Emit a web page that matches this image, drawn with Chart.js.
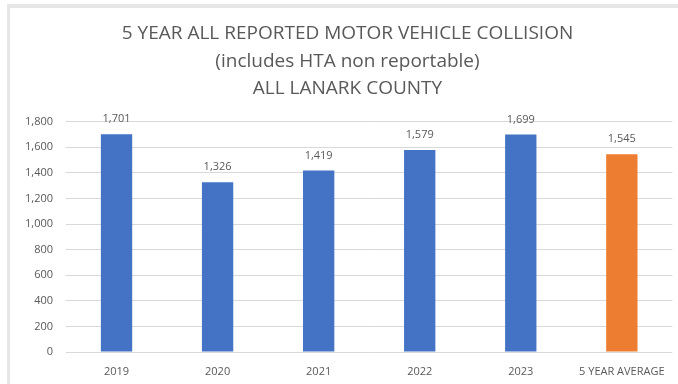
<!DOCTYPE html>
<html>
<head>
<meta charset="utf-8">
<script src="https://cdn.jsdelivr.net/npm/chart.js@4/dist/chart.umd.min.js"></script>
<style>
  html, body { margin: 0; padding: 0; background: #ffffff; }
  #wrap { position: relative; width: 678px; height: 384px; overflow: hidden; }
  #frame {
    position: absolute; left: 7px; top: 4px; right: -10px; bottom: -10px;
    border-top: 4px solid #e6e6e6; border-left: 3px solid #e6e6e6; background: #ffffff;
  }
  #chart { position: absolute; left: 0; top: 0; }
</style>
</head>
<body>
<div id="wrap">
  <div id="frame"></div>
  <canvas id="chart" width="678" height="384"></canvas>
</div>
<script>
// Collision counts per year plus the five-year average
const categories = ['2019', '2020', '2021', '2022', '2023', '5 YEAR AVERAGE'];
const collisions = [1701, 1326, 1419, 1579, 1699, 1545];
const barColors = ['#4472C4', '#4472C4', '#4472C4', '#4472C4', '#4472C4', '#ED7D31'];
const titleLines = [
  '5 YEAR ALL REPORTED MOTOR VEHICLE COLLISION',
  '(includes HTA non reportable)',
  'ALL LANARK COUNTY'
];
const yTicks = [0, 200, 400, 600, 800, 1000, 1200, 1400, 1600, 1800];

const TEXT = '#595959';
const FONT = "'Open Sans', 'Noto Sans', sans-serif";

// Writes each bar's value just above it
const valueLabels = {
  id: 'valueLabels',
  afterDatasetsDraw(chart) {
    const ctx = chart.ctx;
    const meta = chart.getDatasetMeta(0);
    ctx.save();
    ctx.font = '11px ' + FONT;
    ctx.fillStyle = TEXT;
    ctx.textAlign = 'center';
    ctx.textBaseline = 'middle';
    meta.data.forEach((bar, i) => {
      ctx.fillText(collisions[i].toLocaleString('en-US'), bar.x, bar.y - 15);
    });
    ctx.restore();
  }
};

new Chart(document.getElementById('chart'), {
  type: 'bar',
  data: {
    labels: categories,
    datasets: [{
      data: collisions,
      backgroundColor: barColors,
      borderWidth: 0,
      categoryPercentage: 1,
      barPercentage: 0.31
    }]
  },
  options: {
    responsive: false,
    animation: false,
    layout: { padding: { left: 22, right: 5, top: 20, bottom: 0 } },
    plugins: {
      legend: { display: false },
      tooltip: { enabled: false },
      title: {
        display: true,
        text: titleLines,
        color: TEXT,
        font: { family: FONT, size: 19, weight: 'normal', lineHeight: 1.45 },
        padding: { top: 0, bottom: 19 }
      }
    },
    scales: {
      x: {
        grid: { display: false, drawTicks: false },
        border: { display: false },
        ticks: { color: TEXT, font: { family: FONT, size: 11 }, padding: 13, maxRotation: 0 },
        afterFit(scale) { scale.height = 32; }
      },
      y: {
        min: 0,
        max: 1800,
        afterBuildTicks(scale) { scale.ticks = yTicks.map(v => ({ value: v })); },
        grid: { color: '#d9d9d9', lineWidth: 1, drawTicks: false },
        border: { display: false },
        ticks: {
          color: TEXT,
          font: { family: FONT, size: 11 },
          padding: 13,
          callback: v => v.toLocaleString('en-US')
        },
        afterFit(scale) { scale.width = 44; }
      }
    }
  },
  plugins: [valueLabels]
});
</script>
</body>
</html>
